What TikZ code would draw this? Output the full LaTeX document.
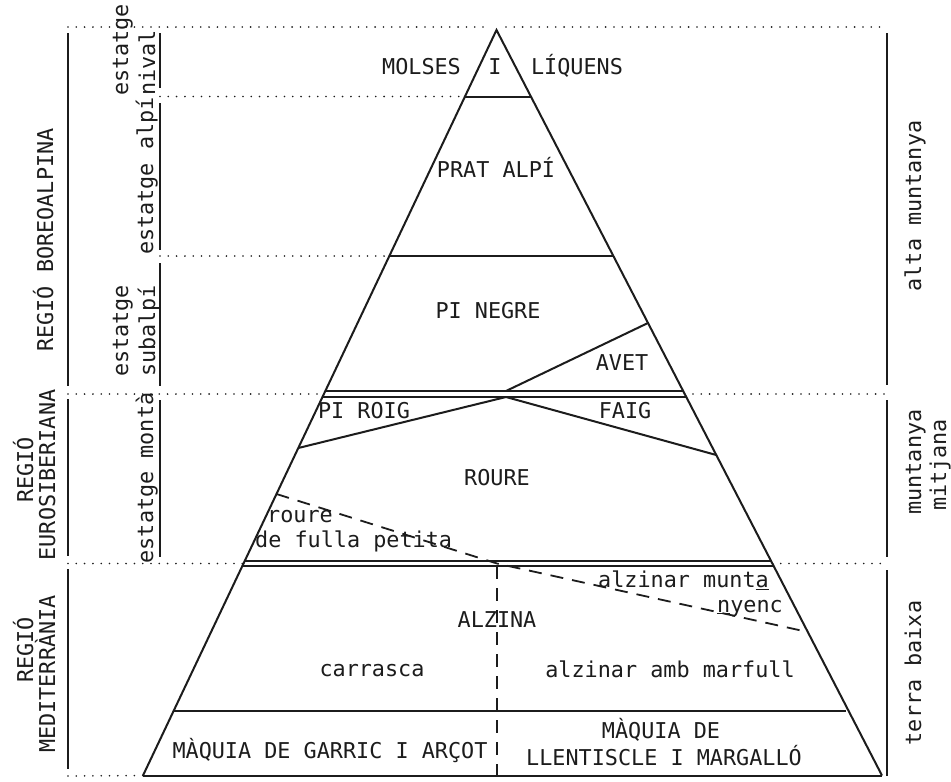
\documentclass[tikz,border=0pt]{standalone}
\usepackage{fontspec}
\newfontfamily\tw{DejaVu Sans Mono}
\usetikzlibrary{calc}
\definecolor{ink}{RGB}{28,28,28}
\begin{document}
\begin{tikzpicture}[x=1pt,y=-1pt,
  every node/.style={font=\tw\fontsize{21.8}{26}\selectfont, text=ink, inner sep=0pt, anchor=base},
  edgeline/.style={draw=ink, line width=2pt},
  thinline/.style={draw=ink, line width=1.5pt},
  bar/.style={draw=ink, line width=2.4pt},
  dots/.style={draw=ink, line width=1.8pt, line cap=round, dash pattern=on 0pt off 8.3pt},
  dashline/.style={draw=ink, line width=1.8pt, dash pattern=on 13pt off 9pt},
  rot/.style={rotate=90}]
\useasboundingbox (0,0) rectangle (951,782);
\fill[white] (0,0) rectangle (951,782);

% pyramid
\coordinate (A) at (496.5,30);
\coordinate (BL) at (143,775.5);
\coordinate (BR) at (882,775.5);
\foreach \n/\t in {a/0.0892, b/0.3032, c/0.4842, d/0.4923, e/0.7123, f/0.7190, g/0.9135,
                   avet/0.3930, roig/0.5607, faig/0.5701, ds/0.6224, de/0.8075}{
  \coordinate (L\n) at ($(A)!\t!(BL)$);
  \coordinate (R\n) at ($(A)!\t!(BR)$);
}
\draw[edgeline] (BL) -- (A) -- (BR);
\draw[edgeline] (BL) -- (BR);
\draw[edgeline] (La) -- (Ra);
\draw[edgeline] (Lb) -- (Rb);
\draw[thinline] (Lc) -- (Rc);
\draw[thinline] (Ld) -- (Rd);
\draw[thinline] (Le) -- (Re);
\draw[thinline] (Lf) -- (Rf);
\draw[edgeline] (Lg) -- ($(Rg)+(-3,0)$);

\coordinate (X1) at (506,391);
\coordinate (X2) at (506,397);
\draw[edgeline] (X1) -- (Ravet);
\draw[edgeline] (X2) -- (Lroig);
\draw[edgeline] (X2) -- (Rfaig);

\coordinate (M) at (497,563.5);
\coordinate (Mtop) at (497,566);
\coordinate (Mbot) at (497,775.5);
\draw[dashline] (Lds) -- (M) -- (Rde);
\draw[dashline] (Mtop) -- (Mbot);

% dotted guides
\coordinate (P1) at (68,27);   \coordinate (P2) at (488,27);
\coordinate (P3) at (506,27);  \coordinate (P4) at (887,27);
\draw[dots] (P1) -- (P2);
\draw[dots] (P3) -- (P4);
\draw[dots] (160,96.5) -- (La);
\draw[dots] (160,256) -- (Lb);
\draw[dots] (68,394) -- ($(Lc)!0.5!(Ld)$);
\draw[dots] ($(Rc)!0.5!(Rd)$) -- (887,394);
\draw[dots] (68,563.5) -- ($(Le)!0.5!(Lf)$);
\draw[dots] ($(Re)!0.5!(Rf)$) -- (887,563.5);
\draw[dots] (68,776) -- (BL);

% vertical bars
\draw[bar] (68,33) -- (68,386);
\draw[bar] (68,399) -- (68,556);
\draw[bar] (68,569) -- (68,769);
\draw[bar] (160,33) -- (160,88);
\draw[bar] (160,103) -- (160,250);
\draw[bar] (160,263) -- (160,386);
\draw[bar] (160,400) -- (160,557);
\draw[bar] (887,33) -- (887,385);
\draw[bar] (887,400) -- (887,557);
\draw[bar] (887,570) -- (887,775.5);

% interior labels
\node (molses) at (421.5,74) {MOLSES};
\node (ii) at (495,74) {I};
\node (liquens) at (577,74) {LÍQUENS};
\node (prat) at (496,177) {PRAT ALPÍ};
\node (negre) at (488,318) {PI NEGRE};
\node (avet) at (622,370) {AVET};
\node (roig) at (364,418) {PI ROIG};
\node (faig) at (625,418) {FAIG};
\node (roure) at (497,485) {ROURE};
\node[anchor=base west] (rr1) at (267,522) {roure};
\node[anchor=base west] (rr2) at (255,547) {de fulla petita};
\node[anchor=base west] (am1) at (598,587) {alzinar munt\underline{a}};
\node[anchor=base west] (am2) at (717,612) {\underline{n}yenc};
\node (alzina) at (497,627) {ALZINA};
\node (carrasca) at (372,676) {carrasca};
\node (marfull) at (670,677) {alzinar amb marfull};
\node (garric) at (330,758) {MÀQUIA DE GARRIC I ARÇOT};
\node (llen1) at (661,738) {MÀQUIA DE};
\node (llen2) at (664,765) {LLENTISCLE I MARGALLÓ};

% left labels
\node[rot] (boreo) at (53,240) {REGIÓ BOREOALPINA};
\node[rot] (eu1) at (33,470) {REGIÓ};
\node[rot] (eu2) at (55,475) {EUROSIBERIANA};
\node[rot] (me1) at (33,650) {REGIÓ};
\node[rot] (me2) at (55,674) {MEDITERRÀNIA};
\node[rot,anchor=base west] (ni1) at (128,96) {estatge};
\node[rot,anchor=base west] (ni2) at (155,96) {nival};
\node[rot] (alpi) at (153,176) {estatge alpí};
\node[rot,anchor=base west] (su1) at (128,377) {estatge};
\node[rot,anchor=base west] (su2) at (155,377) {subalpí};
\node[rot] (monta) at (153,478) {estatge montà};

% right labels
\node[rot] (alta) at (921,206) {alta muntanya};
\node[rot] (mit1) at (921,462) {muntanya};
\node[rot] (mit2) at (946,465) {mitjana};
\node[rot] (terra) at (921,673) {terra baixa};
\end{tikzpicture}
\end{document}
